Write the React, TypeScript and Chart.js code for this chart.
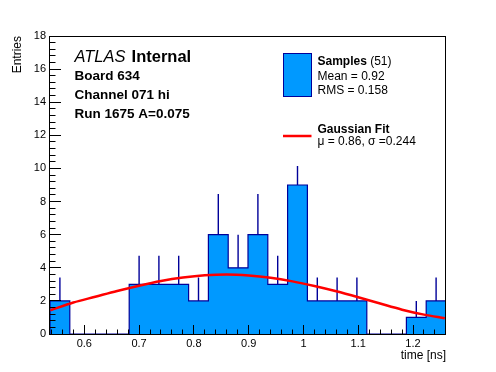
import React, { useEffect, useRef } from 'react';
import { Chart, registerables } from 'chart.js';

Chart.register(...registerables);

// ---- data ----
const X_MIN = 0.5374;
const X_MAX = 1.2602;
const BIN_COUNTS = [2, 0, 0, 0, 3, 3, 3, 2, 6, 4, 6, 3, 9, 2, 2, 2, 0, 0, 1, 2];
const BIN_ERRORS = [1.41, 0, 0, 0, 1.73, 1.73, 1.73, 1.41, 2.45, 2.0, 2.45, 1.73, 1.15, 1.41, 1.41, 1.41, 0, 0, 1.0, 1.41];
const FIT_X = [0.538, 0.58, 0.62, 0.66, 0.7, 0.74, 0.78, 0.82, 0.86, 0.9, 0.94, 0.98, 1.02, 1.06, 1.1, 1.14, 1.18, 1.22, 1.258];
const FIT_Y = [1.43, 1.9, 2.25, 2.6, 2.92, 3.2, 3.41, 3.55, 3.6, 3.54, 3.4, 3.18, 2.9, 2.58, 2.22, 1.84, 1.47, 1.17, 0.95];
const X_TICKS = [0.6, 0.7, 0.8, 0.9, 1.0, 1.1, 1.2];
const X_TICK_LABELS = ['0.6', '0.7', '0.8', '0.9', '1', '1.1', '1.2'];
const Y_TICKS = [0, 2, 4, 6, 8, 10, 12, 14, 16, 18];
const Y_TICK_LABELS = ['0', '2', '4', '6', '8', '10', '12', '14', '16', '18'];
const X_TITLE = 'time [ns]';
const Y_TITLE = 'Entries';
const HEADER_MAIN = ['ATLAS', 'Internal'];
const HEADER_LINES = ['Board 634', 'Channel 071 hi', 'Run 1675 A=0.075'];
const LEGEND_SAMPLES = ['Samples', '(51)'];
const LEGEND_STATS = ['Mean = 0.92', 'RMS = 0.158'];
const LEGEND_FIT = ['Gaussian Fit', 'μ = 0.86, σ =0.244'];

const FONT = '"Liberation Sans", Arial, Helvetica, sans-serif';
const FILL = '#0099ff';
const NAVY = '#000099';
const RED = '#ff0000';

const N_BINS = BIN_COUNTS.length;
const BIN_W = (X_MAX - X_MIN) / N_BINS;

function histOutline() {
  const pts: { x: number; y: number }[] = [{ x: X_MIN, y: 0 }];
  BIN_COUNTS.forEach((c, i) => pts.push({ x: X_MIN + i * BIN_W, y: c }));
  pts.push({ x: X_MAX, y: 0 });
  return pts;
}

function errorSegments() {
  const pts: { x: number; y: number | null }[] = [];
  BIN_COUNTS.forEach((c, i) => {
    if (c <= 0) return;
    const cx = X_MIN + (i + 0.5) * BIN_W;
    pts.push({ x: cx, y: c });
    pts.push({ x: cx, y: c + BIN_ERRORS[i] });
    pts.push({ x: cx, y: null });
  });
  return pts;
}

const crisp = (v: number) => Math.floor(v) + 0.5;

const rootPlugin = {
  id: 'rootFrame',
  afterDatasetsDraw(chart: any) {
    const { ctx, chartArea: a, scales } = chart;
    const x = scales.x;
    const y = scales.y;
    ctx.save();
    ctx.strokeStyle = '#000';
    ctx.lineWidth = 1;
    ctx.beginPath();
    // y ticks (inside)
    for (let k = 0; k <= 45; k++) {
      const v = k * 0.4;
      const py = crisp(y.getPixelForValue(v));
      const len = k % 5 === 0 ? 11 : 5.5;
      ctx.moveTo(a.left, py);
      ctx.lineTo(a.left + len, py);
    }
    // x ticks (inside)
    for (let k = 27; k <= 63; k++) {
      const v = k * 0.02;
      if (v > X_MAX) break;
      const px = crisp(x.getPixelForValue(v));
      const len = k % 5 === 0 ? 9 : 4.5;
      ctx.moveTo(px, a.bottom);
      ctx.lineTo(px, a.bottom - len);
    }
    ctx.stroke();
    // frame
    ctx.strokeRect(crisp(a.left) - 1, crisp(a.top), Math.round(a.right - a.left), Math.round(a.bottom - a.top));
    ctx.restore();
  },
  afterDraw(chart: any) {
    const { ctx } = chart;
    ctx.save();
    ctx.fillStyle = '#000';
    ctx.textBaseline = 'alphabetic';
    ctx.textAlign = 'left';
    // header
    ctx.font = `italic 16.5px ${FONT}`;
    ctx.fillText(HEADER_MAIN[0], 74.5, 61.7);
    const w = ctx.measureText(HEADER_MAIN[0]).width;
    ctx.font = `bold 16.5px ${FONT}`;
    ctx.fillText(HEADER_MAIN[1], 74.5 + w + 6, 61.7);
    ctx.font = `bold 13.5px ${FONT}`;
    HEADER_LINES.forEach((t, i) => ctx.fillText(t, 74.5, 80 + i * 19));

    // legend: samples
    ctx.fillStyle = FILL;
    ctx.fillRect(283.5, 53.5, 28, 43);
    ctx.strokeStyle = NAVY;
    ctx.lineWidth = 1;
    ctx.strokeRect(283.5, 53.5, 28, 43);
    ctx.fillStyle = '#000';
    ctx.font = `bold 12px ${FONT}`;
    ctx.fillText(LEGEND_SAMPLES[0], 317.5, 64.7);
    const ws = ctx.measureText(LEGEND_SAMPLES[0] + ' ').width;
    ctx.font = `12px ${FONT}`;
    ctx.fillText(LEGEND_SAMPLES[1], 317.5 + ws, 64.7);
    ctx.fillText(LEGEND_STATS[0], 317.5, 80);
    ctx.fillText(LEGEND_STATS[1], 317.5, 94);

    // legend: fit
    ctx.strokeStyle = RED;
    ctx.lineWidth = 2.5;
    ctx.beginPath();
    ctx.moveTo(283, 136);
    ctx.lineTo(311.5, 136);
    ctx.stroke();
    ctx.font = `bold 12px ${FONT}`;
    ctx.fillText(LEGEND_FIT[0], 317.5, 133.3);
    ctx.font = `12px ${FONT}`;
    ctx.fillText(LEGEND_FIT[1], 317.5, 145);
    ctx.restore();
  },
};

export default function App() {
  const ref = useRef<HTMLCanvasElement | null>(null);

  useEffect(() => {
    if (!ref.current) return;
    const chart = new Chart(ref.current, {
      type: 'line',
      data: {
        datasets: [
          {
            label: 'Gaussian Fit',
            data: FIT_X.map((xv, i) => ({ x: xv, y: FIT_Y[i] })),
            borderColor: RED,
            borderWidth: 2.5,
            pointRadius: 0,
            cubicInterpolationMode: 'monotone',
            fill: false,
            order: 0,
          },
          {
            label: 'errors',
            data: errorSegments(),
            borderColor: NAVY,
            borderWidth: 1.4,
            pointRadius: 0,
            spanGaps: false,
            fill: false,
            order: 1,
          },
          {
            label: 'Samples',
            data: histOutline(),
            borderColor: NAVY,
            backgroundColor: FILL,
            borderWidth: 1.2,
            pointRadius: 0,
            stepped: 'before',
            fill: 'origin',
            order: 2,
          },
        ] as any,
      },
      options: {
        animation: false,
        responsive: false,
        devicePixelRatio: 1,
        events: [],
        layout: { padding: { left: 0, right: 50, top: 36, bottom: 0 } },
        plugins: {
          legend: { display: false },
          tooltip: { enabled: false },
        },
        scales: {
          x: {
            type: 'linear',
            min: X_MIN,
            max: X_MAX,
            afterBuildTicks: (axis: any) => {
              axis.ticks = X_TICKS.map((v) => ({ value: v }));
            },
            afterFit: (s: any) => {
              s.height = 38;
            },
            ticks: {
              autoSkip: false,
              maxRotation: 0,
              padding: 3,
              color: '#000',
              font: { family: FONT, size: 11 },
              callback: (_v: any, i: number) => X_TICK_LABELS[i],
            },
            grid: { display: false, drawTicks: false },
            border: { display: false },
            title: {
              display: true,
              text: X_TITLE,
              align: 'end',
              color: '#000',
              font: { family: FONT, size: 12 },
              padding: { top: 0, bottom: 8.8 },
            },
          },
          y: {
            type: 'linear',
            min: 0,
            max: 18,
            afterBuildTicks: (axis: any) => {
              axis.ticks = Y_TICKS.map((v) => ({ value: v }));
            },
            afterFit: (s: any) => {
              s.width = 50;
            },
            ticks: {
              autoSkip: false,
              padding: 4,
              color: '#000',
              font: { family: FONT, size: 11 },
              callback: (_v: any, i: number) => Y_TICK_LABELS[i],
            },
            grid: { display: false, drawTicks: false },
            border: { display: false },
            title: {
              display: true,
              text: Y_TITLE,
              align: 'end',
              color: '#000',
              font: { family: FONT, size: 12 },
              padding: { top: 10.8, bottom: 0 },
            },
          },
        },
      } as any,
      plugins: [rootPlugin],
    });
    return () => chart.destroy();
  }, []);

  return (
    <div style={{ position: 'fixed', left: 0, top: 0, width: 496, height: 372, background: '#fff' }}>
      <canvas ref={ref} width={496} height={372} style={{ display: 'block', width: 496, height: 372 }} />
    </div>
  );
}
